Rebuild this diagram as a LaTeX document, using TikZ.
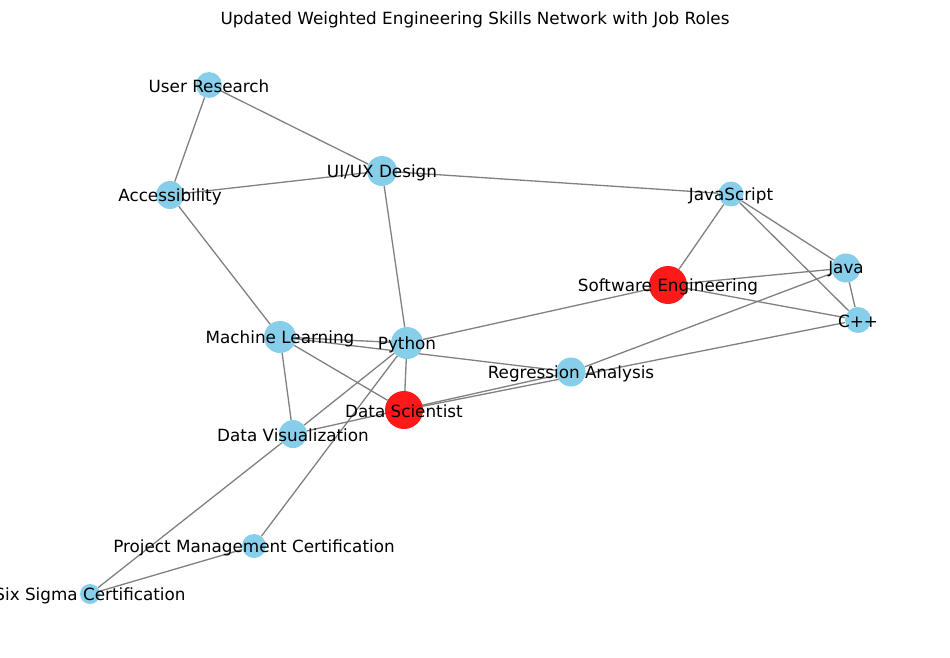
\documentclass[tikz,border=0pt]{standalone}
\usepackage{fontspec}
\setmainfont{DejaVu Sans}
\usetikzlibrary{backgrounds}
\definecolor{skyblue}{HTML}{87CEEB}
\begin{document}
\begin{tikzpicture}[x=1pt,y=-1pt,
	skill/.style={circle,fill=skyblue,inner sep=0pt},
	job/.style={circle,fill=red,fill opacity=0.9,inner sep=0pt},
	lbl/.style={font=\fontsize{16.8}{20}\selectfont,inner sep=0pt,yshift=-1.5pt},
	edge/.style={draw=gray,line width=1.3pt}]
\clip (0,0) rectangle (950,658);

\node[lbl] (title) at (475,18) {Updated Weighted Engineering Skills Network with Job Roles};

% skills and job roles
\node[skill,minimum size=26] (ur) at (209,85) {};
\node[skill,minimum size=30] (ux) at (382,171) {};
\node[skill,minimum size=28] (acc) at (170,195) {};
\node[skill,minimum size=25] (js) at (731,194) {};
\node[skill,minimum size=29] (java) at (846,268) {};
\node[job,minimum size=38] (se) at (668,285) {};
\node[skill,minimum size=26] (cpp) at (858,320) {};
\node[skill,minimum size=32] (ml) at (280,337) {};
\node[skill,minimum size=32] (py) at (407,343) {};
\node[skill,minimum size=29] (reg) at (571,372) {};
\node[job,minimum size=38] (ds) at (404,410) {};
\node[skill,minimum size=28] (dv) at (293,434) {};
\node[skill,minimum size=24] (pm) at (254,546) {};
\node[skill,minimum size=20] (six) at (90,594) {};

\begin{pgfonlayer}{background}
\foreach \a/\b in {ur/acc, ur/ux, acc/ux, ux/js, ux/py, acc/ml,
	js/se, js/java, js/cpp, java/cpp, se/java, se/cpp, se/py,
	java/reg, cpp/ds, ml/py, ml/reg, ml/ds, ml/dv,
	py/ds, py/dv, py/pm, dv/reg, dv/six, pm/six} {
	\draw[edge] (\a) -- (\b);
}
\end{pgfonlayer}

\foreach \n/\t in {ur/User Research, ux/{UI/UX Design}, acc/Accessibility,
	js/JavaScript, java/Java, se/Software Engineering, cpp/C++,
	ml/Machine Learning, py/Python, reg/Regression Analysis,
	ds/Data Scientist, dv/Data Visualization,
	pm/Project Management Certification, six/Six Sigma Certification} {
	\node[lbl] (\n-t) at (\n) {\t};
}
\end{tikzpicture}
\end{document}
